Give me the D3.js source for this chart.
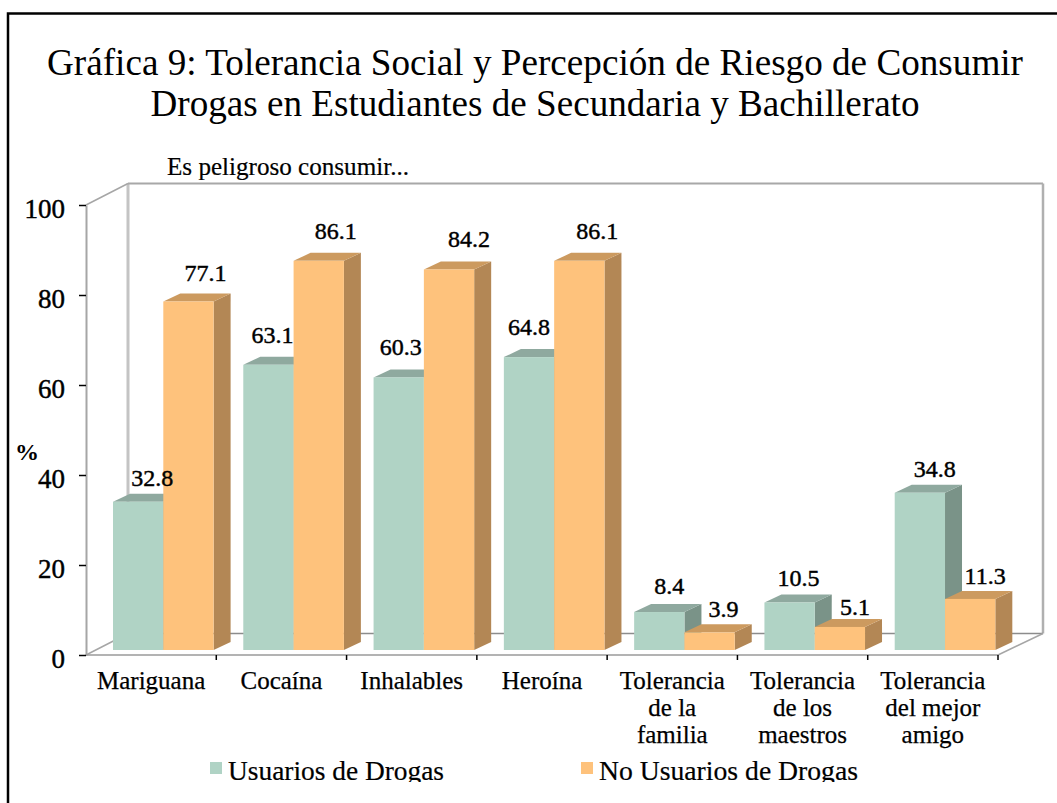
<!DOCTYPE html>
<html>
<head>
<meta charset="utf-8">
<script src="https://cdn.jsdelivr.net/npm/d3@7"></script>
<style>
  html, body { margin: 0; padding: 0; background: #fff; }
  svg { display: block; }
  text { font-family: "Liberation Serif", serif; fill: #000; }
  .num { stroke: #000; stroke-width: 0.45px; }
  .cat { stroke: #000; stroke-width: 0.25px; }
</style>
</head>
<body>
<div id="chart"></div>
<script>
const categories = [
  ['Mariguana'],
  ['Cocaína'],
  ['Inhalables'],
  ['Heroína'],
  ['Tolerancia', 'de la', 'familia'],
  ['Tolerancia', 'de los', 'maestros'],
  ['Tolerancia', 'del mejor', 'amigo'],
];
const seriesNames = ['Usuarios de Drogas', 'No Usuarios de Drogas'];
const usuarios = [32.8, 63.1, 60.3, 64.8, 8.4, 10.5, 34.8];
const noUsuarios = [77.1, 86.1, 84.2, 86.1, 3.9, 5.1, 11.3];
const yTicks = [0, 20, 40, 60, 80, 100];
const titleLines = [
  'Gráfica 9: Tolerancia Social y Percepción de Riesgo de Consumir',
  'Drogas en Estudiantes de Secundaria y Bachillerato',
];

const width = 1057;
const height = 803;

const svg = d3.select('#chart').append('svg')
  .attr('width', width)
  .attr('height', height);

// Outer frame, only top and left are visible in the crop
svg.append('path')
  .attr('d', 'M8,803V13.5H1057')
  .attr('fill', 'none')
  .attr('stroke', '#000')
  .attr('stroke-width', 2.5);

// Title
svg.selectAll('.title')
  .data(titleLines)
  .join('text')
  .attr('class', 'title')
  .attr('x', 535)
  .attr('y', (d, i) => 75 + i * 41)
  .attr('text-anchor', 'middle')
  .attr('font-size', 38)
  .attr('textLength', (d, i) => [976, 769][i])
  .attr('lengthAdjust', 'spacingAndGlyphs')
  .text((d) => d);

svg.append('text')
  .attr('x', 167)
  .attr('y', 175)
  .attr('font-size', 25)
  .attr('stroke', '#000')
  .attr('stroke-width', 0.2)
  .attr('textLength', 242)
  .attr('lengthAdjust', 'spacingAndGlyphs')
  .text('Es peligroso consumir...');

// Scales
const x0 = d3.scaleBand().domain(d3.range(categories.length)).range([86, 998]);
const x1 = d3.scaleBand().domain([0, 1]).range([27, 127.6]);
const yAxisScale = d3.scaleLinear().domain([0, 100]).range([655, 205]);
const yBar = d3.scaleLinear().domain([0, 100]).range([650, 198]);

const wallDxLeft = 42;
const wallDxRight = 45;
const wallDy = -21.5;
const barDx = 17;
const barDy = -8;
const poly = d3.line();

// Back walls and floor
const wallX0 = x0.range()[0];
const wallX1 = x0.range()[1];
const yTop = yAxisScale(100);
const yBottom = yAxisScale(0);

svg.append('path')
  .attr('d', poly([[wallX0 + wallDxLeft, yBottom + wallDy], [wallX0 + wallDxLeft, yTop + wallDy]]))
  .attr('stroke', '#c4c4c4')
  .attr('stroke-width', 3);

svg.append('path')
  .attr('d', poly([[wallX0 + wallDxLeft, yTop + wallDy], [wallX1 + wallDxRight, yTop + wallDy]]))
  .attr('stroke', '#a8a8a8')
  .attr('stroke-width', 2);

svg.append('path')
  .attr('d', poly([[wallX1 + wallDxRight, yTop + wallDy], [wallX1 + wallDxRight, yBottom + wallDy]]))
  .attr('stroke', '#b0b0b0')
  .attr('stroke-width', 2.5);

svg.append('path')
  .attr('d', poly([[wallX0 + wallDxLeft, yBottom + wallDy], [wallX1 + wallDxRight, yBottom + wallDy]]))
  .attr('stroke', '#8c8c8c')
  .attr('stroke-width', 1.5);

svg.append('path')
  .attr('d', poly([[wallX0, yTop], [wallX0 + wallDxLeft, yTop + wallDy]]) + poly([[wallX0, yBottom], [wallX0 + wallDxLeft, yBottom + wallDy]]) + poly([[wallX1, yBottom], [wallX1 + wallDxRight, yBottom + wallDy]]))
  .attr('fill', 'none')
  .attr('stroke', '#a6a6a6')
  .attr('stroke-width', 1.5);

// Bars
const seriesColors = [
  { front: '#b0d3c5', top: '#8fa99f', side: '#7a9388' },
  { front: '#fec27c', top: '#cc9a5f', side: '#b38755' },
];
const seriesValues = [usuarios, noUsuarios];

const groups = svg.selectAll('.group')
  .data(categories)
  .join('g')
  .attr('class', 'group')
  .attr('transform', (d, i) => `translate(${x0(i)},0)`);

groups.each(function (cat, i) {
  const g = d3.select(this);
  seriesValues.forEach((values, s) => {
    const c = seriesColors[s];
    const left = x1(s);
    const right = left + x1.bandwidth();
    const top = yBar(values[i]);
    const base = yBar(0);
    g.append('path')
      .attr('fill', c.side)
      .attr('d', poly([[right, top], [right + barDx, top + barDy], [right + barDx, base + barDy], [right, base]]));
    g.append('path')
      .attr('fill', c.top)
      .attr('d', poly([[left, top], [left + barDx, top + barDy], [right + barDx, top + barDy], [right, top]]));
    g.append('rect')
      .attr('x', left)
      .attr('y', top)
      .attr('width', x1.bandwidth())
      .attr('height', base - top)
      .attr('fill', c.front);
  });
});

// Axes
const yAxis = d3.axisLeft(yAxisScale).tickValues(yTicks).tickSizeInner(7).tickSizeOuter(0).tickPadding(14);
const yG = svg.append('g').attr('transform', `translate(${wallX0},0)`).call(yAxis);
yG.select('.domain').attr('stroke', '#a6a6a6').attr('stroke-width', 2);
yG.selectAll('.tick line').attr('stroke', '#000').attr('stroke-width', 1.5);
yG.selectAll('.tick text')
  .attr('class', 'num')
  .attr('dy', '0.46em')
  .attr('font-size', 27)
  .attr('font-family', '"Liberation Serif", serif');

svg.append('path')
  .attr('d', poly([[wallX0, yBottom], [wallX1, yBottom]]))
  .attr('stroke', '#9a9a9a')
  .attr('stroke-width', 1.5);

svg.selectAll('.xtick')
  .data(d3.range(categories.length))
  .join('line')
  .attr('class', 'xtick')
  .attr('x1', (i) => x0(i) + x0.bandwidth())
  .attr('x2', (i) => x0(i) + x0.bandwidth())
  .attr('y1', yBottom)
  .attr('y2', yBottom + 5)
  .attr('stroke', '#000')
  .attr('stroke-width', 1.5);

// Category labels
groups.each(function (cat) {
  d3.select(this).selectAll('.cat')
    .data(cat)
    .join('text')
    .attr('class', 'cat')
    .attr('x', x0.bandwidth() / 2)
    .attr('y', (d, j) => 689 + j * 27)
    .attr('text-anchor', 'middle')
    .attr('font-size', 25)
    .text((d) => d);
});

// Value labels, nudged by hand to where the reference has them
const labelNudge = [
  [[14, 16], [4, 22], [2, 22], [0, 22], [10, 18], [9, 17], [15, 16]],
  [[17, 21], [17, 22], [20, 22], [18, 22], [14, 15], [15, 12], [15, 15]],
];
seriesValues.forEach((values, s) => {
  svg.selectAll('.val' + s)
    .data(values)
    .join('text')
    .attr('class', 'val' + s + ' num')
    .attr('x', (d, i) => x0(i) + x1(s) + x1.bandwidth() / 2 + labelNudge[s][i][0])
    .attr('y', (d, i) => yBar(d) - labelNudge[s][i][1])
    .attr('text-anchor', 'middle')
    .attr('font-size', 24)
    .text((d) => d3.format('.1f')(d));
});

svg.append('text')
  .attr('x', 15)
  .attr('y', 460)
  .attr('font-size', 24)
  .attr('font-weight', 'bold')
  .text('%');

// Legend, cut off at the bottom like the reference
svg.append('clipPath').attr('id', 'legend-clip')
  .append('rect').attr('x', 0).attr('y', 750).attr('width', width).attr('height', 32);

const legend = svg.append('g').attr('clip-path', 'url(#legend-clip)');
const legendX = d3.scalePoint().domain(seriesNames).range([210, 581]);
const legendW = [216, 259];

legend.selectAll('rect')
  .data(seriesNames)
  .join('rect')
  .attr('x', (d) => legendX(d))
  .attr('y', 762)
  .attr('width', 12)
  .attr('height', 12)
  .attr('fill', (d, i) => seriesColors[i].front);

legend.selectAll('text')
  .data(seriesNames)
  .join('text')
  .attr('x', (d) => legendX(d) + 18)
  .attr('y', 780)
  .attr('font-size', 28)
  .attr('stroke', '#000')
  .attr('stroke-width', 0.2)
  .attr('textLength', (d, i) => legendW[i])
  .attr('lengthAdjust', 'spacingAndGlyphs')
  .text((d) => d);
</script>
</body>
</html>
